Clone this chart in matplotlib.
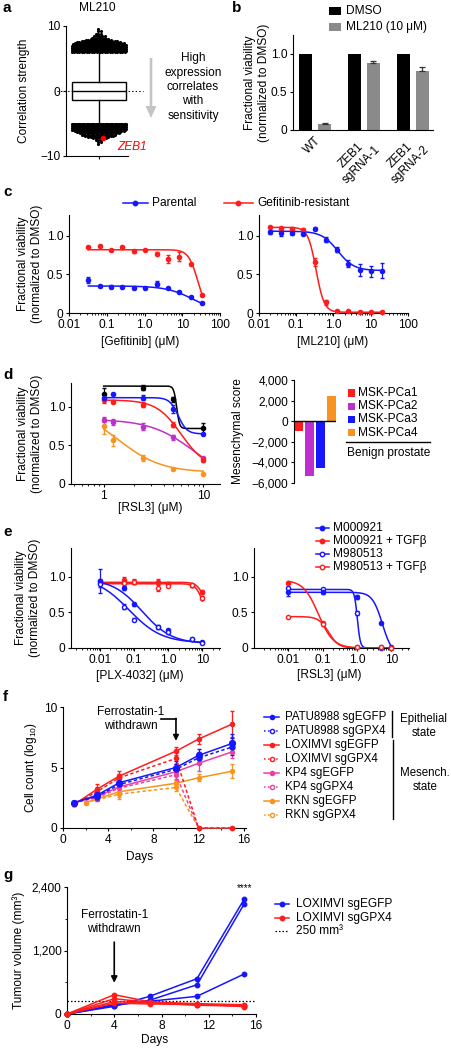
import numpy as np
import matplotlib
matplotlib.use("Agg")
import matplotlib.pyplot as plt
from matplotlib.lines import Line2D
from matplotlib.patches import Rectangle
from matplotlib.ticker import FixedLocator, LogLocator, NullFormatter

FS = 8.6
plt.rcParams["font.family"] = ["Liberation Sans", "DejaVu Sans"]
plt.rcParams["mathtext.fontset"] = "custom"
plt.rcParams["mathtext.rm"] = "Liberation Sans"
plt.rcParams["mathtext.it"] = "Liberation Sans:italic"
plt.rcParams["font.size"] = FS
plt.rcParams["axes.linewidth"] = 0.8

BLUE = "#1616ff"
RED = "#ff1c1c"
MAG = "#bf2fcf"
PINK = "#ec3f9f"
ORANGE = "#f7931e"
GREY = "#8a8a8a"

# ---- a: correlation box plot ----
box_med, box_q1, box_q3 = 0.0, -1.44, 1.39
whisk_lo, whisk_hi = -5.0, 6.0
upper_levels = [6.0, 6.15, 6.3, 6.45, 6.6, 6.75, 6.9, 7.05, 7.2, 7.35, 7.5, 7.65,
                7.8, 8.0, 8.2, 8.5, 8.8, 9.2, 9.6]
upper_counts = [22, 22, 22, 22, 22, 22, 22, 22, 21, 20, 18, 15, 11, 8, 6, 5, 3, 2, 1]
lower_levels = [-5.0, -5.15, -5.3, -5.45, -5.6, -5.75, -5.9, -6.05, -6.2, -6.35,
                -6.5, -6.7, -6.9, -7.1, -7.3, -7.6, -7.9, -8.2]
lower_counts = [22, 22, 22, 22, 22, 22, 22, 22, 20, 18, 16, 14, 12, 9, 6, 3, 2, 1]
zeb1_value = -7.2

# ---- b: ZEB1 knockout viability ----
b_groups = ["WT", "ZEB1\nsgRNA-1", "ZEB1\nsgRNA-2"]
b_dmso = [1.0, 1.0, 1.0]
b_ml210 = [0.08, 0.88, 0.78]
b_ml210_err = [0.01, 0.025, 0.055]

# ---- c: gefitinib / ML210 dose response ----
gef_doses = [0.0325, 0.065, 0.13, 0.26, 0.52, 1.04, 2.08, 4.17, 8.33, 16.7, 33.3]
gef_parental = [0.43, 0.35, 0.34, 0.335, 0.32, 0.33, 0.38, 0.32, 0.27, 0.21, 0.13]
gef_parental_err = [0.04, 0.01, 0.02, 0.01, 0.01, 0.01, 0.03, 0.01, 0.01, 0.01, 0.01]
gef_resist = [0.86, 0.87, 0.81, 0.85, 0.80, 0.82, 0.77, 0.70, 0.73, 0.63, 0.23]
gef_resist_err = [0.01, 0.01, 0.01, 0.02, 0.02, 0.01, 0.02, 0.05, 0.06, 0.01, 0.01]
ml_doses = [0.0195, 0.039, 0.078, 0.156, 0.3125, 0.625, 1.25, 2.5, 5, 10, 20]
ml_parental = [1.05, 1.04, 1.035, 1.03, 1.09, 0.95, 0.82, 0.64, 0.56, 0.54, 0.55]
ml_parental_err = [0.03, 0.04, 0.02, 0.02, 0.02, 0.03, 0.03, 0.05, 0.08, 0.07, 0.1]
ml_resist = [1.11, 1.10, 1.09, 1.07, 0.665, 0.14, 0.03, 0.02, 0.015, 0.01, 0.01]
ml_resist_err = [0.01, 0.01, 0.02, 0.03, 0.05, 0.03, 0.01, 0.01, 0.01, 0.01, 0.01]
# fitted 4-parameter curves: (top, bottom, IC50, hill slope)
fit_gef_parental = (0.35, 0.0, 20.0, 1.2)
fit_gef_resist = (0.82, 0.0, 26.0, 3.5)
fit_ml_parental = (1.06, 0.55, 1.3, 2.0)
fit_ml_resist = (1.11, 0.01, 0.34, 4.0)

# ---- d: prostate cancer organoids ----
rsl3_doses = [1, 1.25, 2.5, 5, 10]
pca1 = [1.09, 1.07, 1.03, 0.77, 0.31]
pca1_err = [0.04, 0.02, 0.03, 0.03, 0.03]
pca2 = [0.835, 0.80, 0.745, 0.605, 0.34]
pca2_err = [0.03, 0.04, 0.05, 0.03, 0.01]
pca3 = [1.12, 1.165, 1.12, 0.97, 0.65]
pca3_err = [0.03, 0.01, 0.03, 0.05, 0.01]
pca4 = [0.75, 0.565, 0.335, 0.19, 0.135]
pca4_err = [0.1, 0.07, 0.04, 0.01, 0.01]
benign_doses = [1, 2.5, 5, 10]
benign = [1.17, 1.25, 1.10, 0.72]
benign_err = [0.07, 0.03, 0.03, 0.07]
fit_pca1 = (1.09, 0.2, 6.0, 3.5)
fit_pca2 = (0.84, 0.0, 8.2, 1.95)
fit_pca3 = (1.12, 0.65, 5.6, 10)
fit_pca4 = (1.0, 0.15, 1.4, 2.0)
fit_benign = (1.27, 0.72, 5.4, 30)
mes_names = ["MSK-PCa1", "MSK-PCa2", "MSK-PCa3", "MSK-PCa4"]
mes_scores = [-950, -5300, -4550, 2450]
mes_colors = [RED, MAG, BLUE, ORANGE]

# ---- e: melanoma lines +/- TGFb ----
plx_doses = [0.01, 0.05, 0.1, 0.5, 1, 5, 10]
plx_m921 = [0.94, 0.84, 0.61, 0.30, 0.25, 0.125, 0.09]
plx_m921_err = [0.17, 0.03, 0.02, 0.02, 0.02, 0.01, 0.01]
plx_m513 = [0.90, 0.58, 0.395, 0.29, 0.22, 0.12, 0.07]
plx_m513_err = [0.05, 0.04, 0.02, 0.02, 0.02, 0.01, 0.01]
plx_m921_t = [0.94, 0.95, 0.93, 0.93, 0.90, 0.88, 0.78]
plx_m921_t_err = [0.03, 0.04, 0.03, 0.03, 0.02, 0.02, 0.03]
plx_m513_t = [0.91, 0.91, 0.92, 0.84, 0.87, 0.88, 0.70]
plx_m513_t_err = [0.03, 0.03, 0.03, 0.04, 0.02, 0.02, 0.03]
fit_plx_m921 = (0.97, 0.06, 0.17, 1.0)
fit_plx_m513 = (1.0, 0.07, 0.07, 0.9)
fit_plx_m921_t = (0.92, 0.4, 12.0, 4.0)
fit_plx_m513_t = (0.90, 0.3, 11.0, 4.0)
rsl_doses = [0.01, 0.1, 1, 5, 10]
rsl_m921 = [0.78, 0.78, 0.71, 0.35, 0.02]
rsl_m921_err = [0.05, 0.02, 0.03, 0.01, 0.01]
rsl_m513 = [0.84, 0.82, 0.49, 0.0, 0.0]
rsl_m513_err = [0.02, 0.02, 0.03, 0.0, 0.0]
rsl_m921_t = [0.91, 0.35, 0.01, 0.01, 0.0]
rsl_m921_t_err = [0.02, 0.02, 0.0, 0.0, 0.0]
rsl_m513_t = [0.43, 0.335, 0.01, 0.01, 0.0]
rsl_m513_t_err = [0.01, 0.02, 0.0, 0.0, 0.0]
fit_rsl_m921 = (0.78, -0.1, 5.5, 3.0)
fit_rsl_m513 = (0.82, 0.0, 1.03, 10.0)
fit_rsl_m921_t = (0.95, 0.0, 0.075, 2.0)
fit_rsl_m513_t = (0.44, 0.0, 0.15, 3.0)

# ---- f: cell counts after GPX4 knockout ----
f_days = [1, 3, 5, 10, 12, 15]
f_days_rkn = [2, 5, 10, 12, 15]
patu_egfp = [2.1, 2.7, 3.75, 5.0, 6.0, 7.0]
patu_egfp_err = [0.1, 0.35, 0.35, 0.5, 0.55, 0.8]
patu_gpx4 = [2.1, 2.6, 3.6, 4.85, 5.8, 6.7]
patu_gpx4_err = [0.1, 0.3, 0.3, 0.45, 0.5, 0.7]
lox_egfp = [1.95, 3.2, 4.3, 6.35, 7.35, 8.6]
lox_egfp_err = [0.1, 0.45, 0.45, 0.35, 0.4, 1.1]
lox_gpx4 = [1.95, 3.0, 4.15, 5.75, 0, 0]
lox_gpx4_err = [0.1, 0.3, 0.3, 0.5, 0, 0]
kp4_egfp = [2.1, 2.6, 3.4, 4.65, 5.35, 6.3]
kp4_egfp_err = [0.1, 0.3, 0.5, 0.6, 0.6, 0.5]
kp4_gpx4 = [2.1, 2.5, 3.3, 4.4, 0, 0]
kp4_gpx4_err = [0.1, 0.3, 0.5, 0.6, 0, 0]
rkn_egfp = [2.1, 3.0, 3.7, 4.15, 4.7]
rkn_egfp_err = [0.1, 0.4, 0.3, 0.3, 0.6]
rkn_gpx4 = [2.1, 2.8, 3.35, 0, 0]
rkn_gpx4_err = [0.1, 0.4, 0.3, 0, 0]

# ---- g: xenograft tumour volume ----
g_days = [0, 4, 7, 11, 15]
egfp_mice = [[0, 145, 334, 667, 2170],
             [0, 160, 260, 553, 2080],
             [0, 175, 240, 334, 756]]
gpx4_mice = [[0, 365, 230, 195, 175],
             [0, 290, 215, 176, 160],
             [0, 235, 205, 165, 150],
             [0, 205, 190, 185, 140]]
threshold = 250

W, H = 452, 1050
fig = plt.figure(figsize=(W / 100, H / 100), dpi=100)


def fx(x):
    return x / W


def fy(y):
    return 1 - y / H


def add_ax(left, top, right, bottom):
    ax = fig.add_axes([fx(left), fy(bottom), (right - left) / W, (bottom - top) / H])
    ax.spines[["top", "right"]].set_visible(False)
    ax.tick_params(direction="out", length=2.5, width=0.8, labelsize=FS, pad=1.5)
    ax.tick_params(which="minor", length=1.6, width=0.6)
    return ax


def ylab(xc, ax, text):
    bb = ax.get_position()
    fig.text(fx(xc), bb.y0 + bb.height / 2, text, rotation=90, ha="center",
             va="center", multialignment="center", fontsize=FS)


def hill(x, fit):
    top, bottom, ic50, h = fit
    return bottom + (top - bottom) / (1 + (x / ic50) ** h)


def dose_resp(ax, doses, vals, errs, fit, color, hollow=False, ms=3.0):
    xs = np.geomspace(doses[0], doses[-1], 300)
    ax.plot(xs, hill(xs, fit), color=color, lw=1.1, zorder=2)
    ax.errorbar(doses, vals, yerr=errs, fmt="o", color=color, ms=ms,
                mfc="white" if hollow else color, mew=1.0, elinewidth=0.9,
                capsize=1.6, capthick=0.9, zorder=3, clip_on=False)


def leg_line(x0, x1, y, color, text, tx, ls="-", hollow=False, ms=3.2, fs=FS):
    fig.add_artist(Line2D([fx(x0), fx(x1)], [fy(y), fy(y)], transform=fig.transFigure,
                          color=color, ls=ls, lw=1.1))
    fig.add_artist(Line2D([fx((x0 + x1) / 2)], [fy(y)], transform=fig.transFigure,
                          marker="o", color=color, mfc="white" if hollow else color,
                          mew=1.0, ms=ms, ls="none"))
    fig.text(fx(tx), fy(y), text, va="center", ha="left", fontsize=fs)


def leg_box(x, y, color, text, tx, w=7, h=7):
    fig.add_artist(Rectangle((fx(x), fy(y + h / 2)), w / W, h / H,
                             transform=fig.transFigure, color=color, lw=0))
    fig.text(fx(tx), fy(y), text, va="center", ha="left", fontsize=FS)


def log_axis(ax, lo, hi, majors, labels):
    ax.set_xscale("log")
    ax.set_xlim(lo, hi)
    ax.xaxis.set_major_locator(FixedLocator(majors))
    ax.set_xticklabels(labels)
    ax.xaxis.set_minor_locator(LogLocator(base=10, subs=np.arange(2, 10)))
    ax.xaxis.set_minor_formatter(NullFormatter())


def panel(letter, x, y):
    fig.text(fx(x), fy(y), letter, fontsize=11, fontweight="bold", va="center", ha="left")


VIAB = "Fractional viability\n(normalized to DMSO)"

# ================= a =================
ax = add_ax(66, 26, 128, 156)
ax.set_xlim(-0.53, 0.47)
ax.set_ylim(-10, 10)
ax.plot([-0.68, 0.71], [0, 0], ls=(0, (1.2, 2.0)), color="black", lw=0.8,
        clip_on=False, zorder=1)
ax.bxp([dict(med=box_med, q1=box_q1, q3=box_q3, whislo=whisk_lo, whishi=whisk_hi,
             fliers=[])], positions=[0], widths=0.87, showfliers=False,
       showcaps=False, patch_artist=True,
       boxprops=dict(facecolor="white", edgecolor="black", lw=1.0),
       medianprops=dict(color="black", lw=1.0),
       whiskerprops=dict(color="black", lw=1.0), zorder=2)
for i, (lv, n) in enumerate(list(zip(upper_levels, upper_counts)) +
                            list(zip(lower_levels, lower_counts))):
    w = min(0.86, 0.041 * (n - 1))
    xs = np.linspace(-w / 2, w / 2, n) + (0.01 if i % 2 else -0.01)
    ax.scatter(xs, np.full(n, lv), s=5, color="black", lw=0, zorder=3)
ax.scatter([0.065], [zeb1_value], s=16, color="red", lw=0, zorder=4)
ax.set_xticks([0])
ax.set_xticklabels([""])
ax.set_yticks([-10, 0, 10])
ax.set_yticklabels(["\u221210", "0", "10"])
ylab(24, ax, "Correlation strength")
fig.text(fx(97), fy(8), "ML210", ha="center", va="center", fontsize=FS)
fig.text(fx(117), fy(147), "ZEB1", ha="left", va="center", fontsize=FS,
         color="red", style="italic")
fig.add_artist(matplotlib.patches.FancyArrow(
    fx(151), fy(58), 0, -(118 - 58 - 12) / H, width=6 / H, head_width=11 / W,
    head_length=12 / H, length_includes_head=False, transform=fig.transFigure,
    color="#c4c4c4", lw=0))
fig.text(fx(193), fy(87), "High\nexpression\ncorrelates\nwith\nsensitivity",
         ha="center", va="center", linespacing=1.25, fontsize=FS)
panel("a", 3, 8)

# ================= b =================
ax = add_ax(293, 35, 433, 130)
pos = np.arange(len(b_groups))
ax.bar(pos - 0.194, b_dmso, width=0.265, color="black", zorder=2)
ax.bar(pos + 0.194, b_ml210, width=0.265, color=GREY, zorder=2)
ax.errorbar(pos + 0.194, b_ml210, yerr=[np.zeros(3), b_ml210_err], fmt="none",
            ecolor="#333333", elinewidth=0.9, capsize=2.2, capthick=0.9, zorder=3)
ax.set_xlim(-0.45, 2.41)
ax.set_ylim(0, 1.25)
ax.set_yticks([0, 0.5, 1.0])
ax.set_yticklabels(["0", "0.5", "1.0"])
ax.set_xticks(pos)
ax.set_xticklabels(b_groups, rotation=45, ha="right", va="top",
                   rotation_mode="anchor", multialignment="center")
ax.tick_params(axis="x", length=0, pad=3)
ylab(257, ax, VIAB)
leg_box(329, 11, "black", "DMSO", 346, w=12, h=8)
leg_box(329, 27, GREY, "ML210 (10 \u03bcM)", 346, w=12, h=8)
panel("b", 232, 8)

# ================= c =================
ax = add_ax(69, 215, 220, 313)
dose_resp(ax, gef_doses, gef_resist, gef_resist_err, fit_gef_resist, RED)
dose_resp(ax, gef_doses, gef_parental, gef_parental_err, fit_gef_parental, BLUE)
log_axis(ax, 0.01, 100, [0.01, 0.1, 1, 10, 100], ["0.01", "0.1", "1.0", "10", "100"])
ax.set_ylim(0, 1.27)
ax.set_yticks([0, 0.5, 1.0])
ax.set_yticklabels(["0", "0.5", "1.0"])
ylab(30, ax, VIAB)
fig.text(fx(140), fy(342), "[Gefitinib] (\u03bcM)", ha="center", va="center")

ax = add_ax(259, 215, 408, 313)
dose_resp(ax, ml_doses, ml_resist, ml_resist_err, fit_ml_resist, RED)
dose_resp(ax, ml_doses, ml_parental, ml_parental_err, fit_ml_parental, BLUE)
log_axis(ax, 0.01, 100, [0.01, 0.1, 1, 10, 100], ["0.01", "0.1", "1.0", "10", "100"])
ax.set_ylim(0, 1.27)
ax.set_yticks([0, 0.5, 1.0])
ax.set_yticklabels(["0", "0.5", "1.0"])
fig.text(fx(333), fy(342), "[ML210] (\u03bcM)", ha="center", va="center")

leg_line(123, 148, 203, BLUE, "Parental", 152)
leg_line(224, 253, 203, RED, "Gefitinib-resistant", 257)
panel("c", 3, 192)

# ================= d =================
ax = add_ax(71, 383, 220, 484)
dose_resp(ax, benign_doses, benign, benign_err, fit_benign, "black")
dose_resp(ax, rsl3_doses, pca4, pca4_err, fit_pca4, ORANGE)
dose_resp(ax, rsl3_doses, pca2, pca2_err, fit_pca2, MAG)
dose_resp(ax, rsl3_doses, pca1, pca1_err, fit_pca1, RED)
dose_resp(ax, rsl3_doses, pca3, pca3_err, fit_pca3, BLUE)
log_axis(ax, 0.47, 14.7, [1, 10], ["1", "10"])
ax.set_ylim(0, 1.31)
ax.set_yticks([0, 0.5, 1.0])
ax.set_yticklabels(["0", "0.5", "1.0"])
ylab(30, ax, VIAB)
fig.text(fx(150), fy(508), "[RSL3] (\u03bcM)", ha="center", va="center")

ax = add_ax(294, 380, 336, 483)
ax.bar(np.arange(len(mes_scores)), mes_scores, width=0.8, color=mes_colors, zorder=2)
ax.axhline(0, color="black", lw=1.0, zorder=3)
ax.set_xlim(-0.4, 3.4)
ax.set_ylim(-6000, 4000)
ax.spines["bottom"].set_visible(False)
ax.set_xticks([])
ax.set_yticks([4000, 2000, 0, -2000, -4000, -6000])
ax.set_yticklabels(["4,000", "2,000", "0", "\u22122,000", "\u22124,000", "\u22126,000"])
ylab(238, ax, "Mesenchymal score")
for i, (name, c) in enumerate(zip(mes_names, mes_colors)):
    leg_box(348, 393 + 13.2 * i, c, name, 358)
fig.add_artist(Line2D([fx(346), fx(430)], [fy(442), fy(442)],
                      transform=fig.transFigure, color="black", lw=1.0))
fig.text(fx(347), fy(453), "Benign prostate", va="center", ha="left")
panel("d", 3, 375)

# ================= e =================
ax = add_ax(71, 548, 220, 648)
dose_resp(ax, plx_doses, plx_m921_t, plx_m921_t_err, fit_plx_m921_t, RED)
dose_resp(ax, plx_doses, plx_m513_t, plx_m513_t_err, fit_plx_m513_t, RED, hollow=True)
dose_resp(ax, plx_doses, plx_m921, plx_m921_err, fit_plx_m921, BLUE)
dose_resp(ax, plx_doses, plx_m513, plx_m513_err, fit_plx_m513, BLUE, hollow=True)
log_axis(ax, 0.0014, 33, [0.01, 0.1, 1, 10], ["0.01", "0.1", "1.0", "10"])
ax.set_ylim(0, 1.4)
ax.set_yticks([0, 0.5, 1.0])
ax.set_yticklabels(["0", "0.5", "1.0"])
ylab(28, ax, VIAB)
fig.text(fx(140), fy(676), "[PLX-4032] (\u03bcM)", ha="center", va="center")

ax = add_ax(254, 548, 409, 648)
dose_resp(ax, rsl_doses, rsl_m513, rsl_m513_err, fit_rsl_m513, BLUE, hollow=True)
dose_resp(ax, rsl_doses, rsl_m921, rsl_m921_err, fit_rsl_m921, BLUE)
dose_resp(ax, rsl_doses, rsl_m921_t, rsl_m921_t_err, fit_rsl_m921_t, RED)
dose_resp(ax, rsl_doses, rsl_m513_t, rsl_m513_t_err, fit_rsl_m513_t, RED, hollow=True)
log_axis(ax, 0.001, 33, [0.01, 0.1, 1, 10], ["0.01", "0.1", "1.0", "10"])
ax.set_ylim(0, 1.4)
ax.set_yticks([0, 0.5, 1.0])
ax.set_yticklabels(["0", "0.5", "1.0"])
fig.text(fx(329), fy(675), "[RSL3] (\u03bcM)", ha="center", va="center")

leg_line(316, 329, 528, BLUE, "M000921", 333)
leg_line(316, 329, 541, RED, "M000921 + TGF\u03b2", 333)
leg_line(316, 329, 554, BLUE, "M980513", 333, hollow=True)
leg_line(316, 329, 567, RED, "M980513 + TGF\u03b2", 333, hollow=True)
panel("e", 3, 532)

# ================= f =================
ax = add_ax(63, 707, 246, 828)
DASH = (0, (2.2, 1.6))
f_series = [
    (f_days_rkn, rkn_gpx4, rkn_gpx4_err, ORANGE, True, 2.8),
    (f_days_rkn, rkn_egfp, rkn_egfp_err, ORANGE, False, 2.8),
    (f_days, kp4_gpx4, kp4_gpx4_err, PINK, True, 2.8),
    (f_days, kp4_egfp, kp4_egfp_err, PINK, False, 2.8),
    (f_days, lox_gpx4, lox_gpx4_err, RED, True, 3.0),
    (f_days, lox_egfp, lox_egfp_err, RED, False, 3.0),
    (f_days, patu_gpx4, patu_gpx4_err, BLUE, True, 3.6),
    (f_days, patu_egfp, patu_egfp_err, BLUE, False, 4.2),
]
for d, v, e, c, ko, ms in f_series:
    ax.errorbar(d, v, yerr=e, color=c, ls=DASH if ko else "-", lw=1.1, marker="o",
                ms=ms, mfc=c, mew=1.0, elinewidth=0.9, capsize=1.6, capthick=0.9,
                clip_on=False, zorder=3)
ax.set_xlim(0, 16.2)
ax.set_ylim(0, 10)
ax.set_xticks([0, 4, 8, 12, 16])
ax.set_xticks([2, 6, 10, 14], minor=True)
ax.set_yticks([0, 5, 10])
ax.plot([8.7, 10], [9.0, 9.0], color="black", lw=1.2)
ax.annotate("", xy=(10, 7.2), xytext=(10, 9.06),
            arrowprops=dict(arrowstyle="-|>", color="black", lw=1.2, shrinkA=0,
                            shrinkB=0, mutation_scale=8))
ax.text(6.0, 9.0, "Ferrostatin-1\nwithdrawn", ha="center", va="center",
        linespacing=1.2, fontsize=FS)
ylab(31, ax, "Cell count (log$_{10}$)")
fig.text(fx(140), fy(857), "Days", ha="center", va="center")

f_leg = [
    ("PATU8988 sgEGFP", BLUE, False), ("PATU8988 sgGPX4", BLUE, True),
    ("LOXIMVI sgEGFP", RED, False), ("LOXIMVI sgGPX4", RED, True),
    ("KP4 sgEGFP", PINK, False), ("KP4 sgGPX4", PINK, True),
    ("RKN sgEGFP", ORANGE, False), ("RKN sgGPX4", ORANGE, True),
]
for i, (lbl, c, ko) in enumerate(f_leg):
    leg_line(264, 279, 717 + 14 * i, c, lbl, 285, ls=":" if ko else "-",
             hollow=ko, ms=3.0, fs=8.3)
fig.add_artist(Line2D([fx(392), fx(392)], [fy(711), fy(737)],
                      transform=fig.transFigure, color="black", lw=1.0))
fig.add_artist(Line2D([fx(393), fx(393)], [fy(740), fy(819)],
                      transform=fig.transFigure, color="black", lw=1.0))
fig.text(fx(424), fy(726), "Epithelial\nstate", ha="center", va="center",
         fontsize=8.3, linespacing=1.25)
fig.text(fx(425), fy(780), "Mesench.\nstate", ha="center", va="center",
         fontsize=8.3, linespacing=1.25)
panel("f", 3, 697)

# ================= g =================
ax = add_ax(67, 887, 256, 1014)
ax.axhline(threshold, color="black", lw=0.9, ls=(0, (1.2, 1.6)), zorder=1)
for m in gpx4_mice:
    ax.plot(g_days, m, color=RED, lw=1.1, marker="o", ms=3.2, clip_on=False, zorder=3)
for m in egfp_mice:
    ax.plot(g_days, m, color=BLUE, lw=1.1, marker="o", ms=3.2, clip_on=False, zorder=2)
ax.set_xlim(0, 16)
ax.set_ylim(0, 2400)
ax.set_xticks([0, 4, 8, 12, 16])
ax.set_xticks([2, 6, 10, 14], minor=True)
ax.set_yticks([0, 1200, 2400])
ax.set_yticklabels(["0", "1,200", "2,400"])
ax.set_yticks([600, 1800], minor=True)
ax.text(15, 2290, "****", ha="center", va="bottom", fontsize=7)
ax.annotate("Ferrostatin-1\nwithdrawn", xy=(4, 590), xytext=(4, 1490),
            ha="center", va="bottom", linespacing=1.2, fontsize=FS,
            arrowprops=dict(arrowstyle="-|>", color="black", lw=1.2, shrinkA=3,
                            shrinkB=0, mutation_scale=9))
ylab(19, ax, "Tumour volume (mm\u00b3)")
fig.text(fx(155), fy(1040), "Days", ha="center", va="center")
leg_line(275, 289, 904, BLUE, "LOXIMVI sgEGFP", 296)
leg_line(275, 289, 918, RED, "LOXIMVI sgGPX4", 296)
fig.add_artist(Line2D([fx(275), fx(289)], [fy(931), fy(931)], transform=fig.transFigure,
                      color="black", lw=0.9, ls=(0, (1.2, 1.6))))
fig.text(fx(296), fy(931), "250 mm\u00b3", va="center", ha="left", fontsize=FS)
panel("g", 3, 875)

fig.savefig("out.png", dpi=100)
